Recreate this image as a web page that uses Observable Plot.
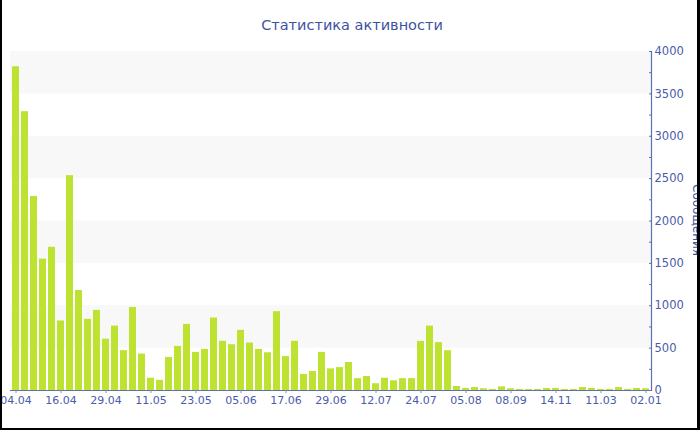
<!DOCTYPE html>
<html>
<head>
<meta charset="utf-8">
<script src="https://cdn.jsdelivr.net/npm/d3@7"></script>
<script src="https://cdn.jsdelivr.net/npm/@observablehq/plot@0.6"></script>
<style>
  html, body { margin: 0; padding: 0; background: #fff; }
  #wrap { position: relative; width: 700px; height: 430px; overflow: hidden; background: #fff; font-family: "DejaVu Sans", Verdana, sans-serif; }
  #title { height: 40px; box-sizing: border-box; padding-top: 17px; text-align: center; font-size: 14.5px; line-height: 17px; color: #3c52a3; padding-left: 4px; }
  #ylabel { position: absolute; left: 690px; top: 184px; writing-mode: vertical-rl; font-size: 12px; line-height: 14px; color: #3c52a3; white-space: nowrap; }
  #edge { position: absolute; left: 0; top: 0; width: 700px; height: 430px; box-sizing: border-box; border-left: 2px solid #000; border-right: 3px solid #000; border-bottom: 2px solid #000; pointer-events: none; }
  svg { display: block; }
</style>
</head>
<body>
<div id="wrap">
  <div id="title">Статистика активности</div>
  <div id="chart"></div>
  <div id="ylabel">Сообщения</div>
  <div id="edge"></div>
</div>
<script>
// Labels shown under every fifth bar
const tickLabels = ["04.04", "16.04", "29.04", "11.05", "23.05", "05.06", "17.06", "29.06",
                    "12.07", "24.07", "05.08", "08.09", "14.11", "11.03", "02.01"];

// Message count per period
const messages = [
  3820, 3290, 2290, 1550, 1690, 820, 2535, 1180, 840, 945,
  605, 760, 470, 980, 430, 145, 120, 390, 520, 780,
  450, 485, 855, 580, 540, 710, 560, 485, 445, 930,
  400, 580, 190, 225, 450, 255, 270, 330, 140, 165,
  80, 145, 115, 140, 140, 580, 760, 565, 470, 47,
  24, 35, 20, 12, 43, 20, 12, 12, 12, 24,
  24, 12, 12, 35, 24, 12, 12, 35, 12, 24, 20
];

const periods = messages.map((_, i) => i);
const rows = periods.map(i => ({period: i, count: messages[i]}));

const yMax = 4000;
const majorTicks = d3.range(0, yMax + 1, 500);
const minorTicks = d3.range(0, yMax + 1, 250);
const stripes = d3.range(500, yMax, 1000).map(v => ({y1: v, y2: v + 500}));

const axisBlue = "#5b70b6";
const textBlue = "#4a5ca8";
const barGreen = "#bde232";

const chart = Plot.plot({
  width: 700,
  height: 390,
  marginTop: 11,
  marginBottom: 40,
  marginLeft: 10,
  marginRight: 49,
  style: {fontFamily: "DejaVu Sans, Verdana, sans-serif", fontSize: "11.5px", background: "transparent"},
  x: {type: "band", domain: periods, paddingInner: 0.26, paddingOuter: 0.22, axis: null},
  y: {domain: [0, yMax], axis: null},
  marks: [
    Plot.rectY(stripes, {y1: "y1", y2: "y2", fill: "#f8f8f8"}),
    Plot.barY(rows, {x: "period", y: "count", fill: barGreen}),
    Plot.ruleY([0], {stroke: axisBlue, strokeWidth: 1.2}),
    Plot.frame({anchor: "right", stroke: axisBlue, strokeWidth: 1.2}),
    // x ticks and labels under every fifth bar
    Plot.axisX({
      ticks: periods.filter(i => i % 5 === 0),
      tickFormat: i => tickLabels[i / 5],
      tickSize: 3,
      tickPadding: 3,
      fontSize: 11,
      stroke: "#8890a8",
      fill: textBlue,
      label: null
    }),
    // small ticks on the value axis, every 250
    Plot.axisY({
      anchor: "right",
      ticks: minorTicks,
      tickSize: 3,
      dx: -3,
      stroke: axisBlue,
      fill: "none",
      label: null
    }),
    // value labels, every 500
    Plot.axisY({
      anchor: "right",
      ticks: majorTicks,
      tickFormat: d => String(d),
      tickSize: 0,
      tickPadding: 3,
      fill: textBlue,
      label: null
    })
  ]
});

document.getElementById("chart").appendChild(chart);
</script>
</body>
</html>
